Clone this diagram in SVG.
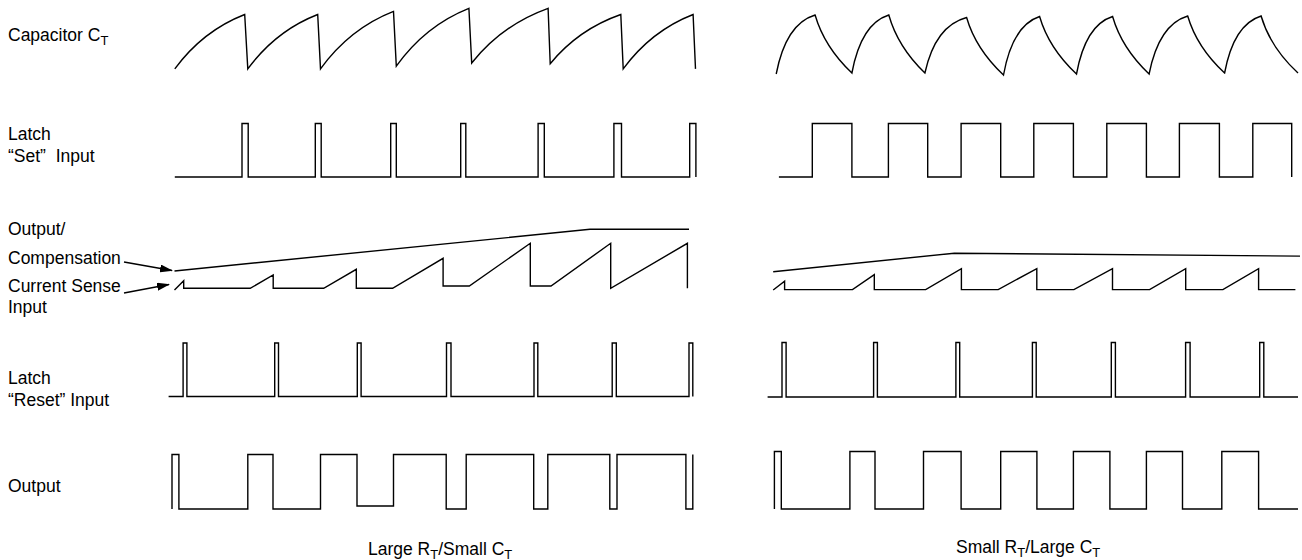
<svg xmlns="http://www.w3.org/2000/svg" width="1302" height="560" viewBox="0 0 1302 560">
<style>
.w{fill:none;stroke:#000;stroke-width:1.4;stroke-linejoin:miter}
.t{font-family:"Liberation Sans",Arial,sans-serif;font-size:17.5px;fill:#000;white-space:pre}
.s{font-size:13px}
</style>
<defs>
<marker id="ah" markerWidth="13" markerHeight="8" refX="12" refY="4" orient="auto" markerUnits="userSpaceOnUse">
<path d="M0,0 L13,4 L0,8 Z" fill="#000"/>
</marker>
</defs>
<rect width="1302" height="560" fill="#fff"/>
<g id="labels">
<text class="t" x="8" y="41">Capacitor C<tspan class="s" dy="4">T</tspan></text>
<text class="t" x="8" y="140">Latch</text>
<text class="t" x="8" y="162">“Set”  Input</text>
<text class="t" x="8" y="235">Output/</text>
<text class="t" x="8" y="264">Compensation</text>
<text class="t" x="8" y="292">Current Sense</text>
<text class="t" x="8" y="313">Input</text>
<text class="t" x="8" y="384">Latch</text>
<text class="t" x="8" y="406">“Reset” Input</text>
<text class="t" x="8" y="492">Output</text>
<text class="t" x="368" y="555">Large R<tspan class="s" dy="4">T</tspan><tspan dy="-4">/Small C</tspan><tspan class="s" dy="4">T</tspan></text>
<text class="t" x="956" y="553">Small R<tspan class="s" dy="4">T</tspan><tspan dy="-4">/Large C</tspan><tspan class="s" dy="4">T</tspan></text>
</g>
<g id="connectors">
<path class="w" d="M124,262 L172,270.5" marker-end="url(#ah)"/>
<path class="w" d="M124,293 L169,284.5" marker-end="url(#ah)"/>
</g>
<g id="capacitor-left">
<path class="w" d="M174.8,68.9 Q202.8,30.8 244.7,14.5 L247.8,68.9 Q275.8,30.8 317.7,14.5 L320.5,68.9 Q349.7,28.6 393.5,11.4 L396.3,66.1 Q425.3,25.6 468.9,8.3 L471.7,63 Q502.3,24.7 548.1,8.3 L550.2,63.7 Q578.4,29.3 620.8,14.5 L623.2,68.9 Q651.2,30.8 693.1,14.5 L695.5,68.9"/>
</g>
<g id="capacitor-right">
<path class="w" d="M776.2,74 Q785.9,23.8 815.1,15 Q824.3,46.9 851.9,73 Q861.1,23.7 888.8,15 Q897.8,46.9 924.9,73 Q935.3,25.8 966.6,17.5 Q975.8,49.1 1003.5,75 Q1012.5,25.3 1039.6,16.5 Q1048.8,48.1 1076.5,74 Q1085.5,25.1 1112.6,16.5 Q1121.7,48.1 1149.1,74 Q1158.8,24.7 1187.7,16 Q1196.9,47.4 1224.6,73 Q1233.7,24.5 1261.1,16 Q1270.3,47.4 1298,73"/>
</g>
<g id="set-left">
<path class="w" d="M174.8,177 H242 V123.5 H248.2 V177 H315.3 V123.5 H321.2 V177 H390.7 V123.5 H396.3 V177 H460.7 V123.5 H465.8 V177 H538.1 V123.5 H544.3 V177 H613.9 V123.5 H621.5 V177 H689.7 V123.5 H695.9 V177"/>
</g>
<g id="set-right">
<path class="w" d="M778.9,177 H812.3 V123.5 H851.9 V177 H888.4 V123.5 H927.7 V177 H961.1 V123.5 H1000.7 V177 H1033.8 V123.5 H1073.4 V177 H1106.8 V123.5 H1146.4 V177 H1179.4 V123.5 H1219.4 V177 H1252.8 V123.5 H1291.7 V177"/>
</g>
<g id="comp-left">
<path class="w" d="M174.5,271 L590,229.3 H689"/>
</g>
<g id="sense-left">
<path class="w" d="M174.5,290 L183.7,280.7 V288.3 H250.2 L273.2,275 V288.3 H323.7 L356.3,269.3 V288.3 H392.6 L443.1,258.3 V286 H469.3 L530.3,243.3 V286 H551 L610.7,243.3 V288.3 L687.4,243.3 V288.3"/>
</g>
<g id="comp-right">
<path class="w" d="M773.2,271.8 L954.3,253.2 L1300,256.1"/>
</g>
<g id="sense-right">
<path class="w" d="M773.2,290 L784.6,281.1 V289.6 H852.5 L874.3,274.6 V289.6 H925.7 L961.4,268.6 V289.6 H998.2 L1036.8,268.6 V289.6 H1073.9 L1112.5,268.6 V289.6 H1149.6 L1185.7,268.6 V289.6 H1222.9 L1258.6,268.6 V289.6 H1295.4"/>
</g>
<g id="reset-left">
<path class="w" d="M168.6,396.5 H183.1 V343 H186.9 V396.5 H274.7 V343 H278.5 V396.5 H357.3 V343 H361.1 V396.5 H446.5 V343 H451 V396.5 H534 V343 H537.8 V396.5 H612.2 V343 H616.3 V396.5 H689 V343 H692.8 V396.5"/>
</g>
<g id="reset-right">
<path class="w" d="M767.6,397 H782 V342.5 H786.1 V397 H873.6 V342.5 H877.4 V397 H955.9 V342.5 H959.7 V397 H1032.4 V342.5 H1036.2 V397 H1111.3 V342.5 H1115.4 V397 H1185.6 V342.5 H1190.1 V397 H1259.7 V342.5 H1263.8 V397 H1298"/>
</g>
<g id="output-left">
<path class="w" d="M172,509 V454.5 H178.9 V509 H247.8 V454.5 H273 V509 H320.5 V454.5 H357 V506 H393.5 V454.5 H446.2 V509 H466.2 V454.5 H533.7 V509 H547.8 V454.5 H609.8 V509 H617 V454.5 H685.9 V509 H692.8 V454.5"/>
</g>
<g id="output-right">
<path class="w" d="M774.4,509 V451.5 H781.3 V509 H849.9 V451.5 H875 V509 H923.5 V451.5 H961.1 V509 H1000.7 V451.5 H1036.9 V509 H1073.4 V451.5 H1109.9 V509 H1146.4 V451.5 H1182.5 V509 H1221.8 V451.5 H1258.6 V509 H1298"/>
</g>
</svg>
